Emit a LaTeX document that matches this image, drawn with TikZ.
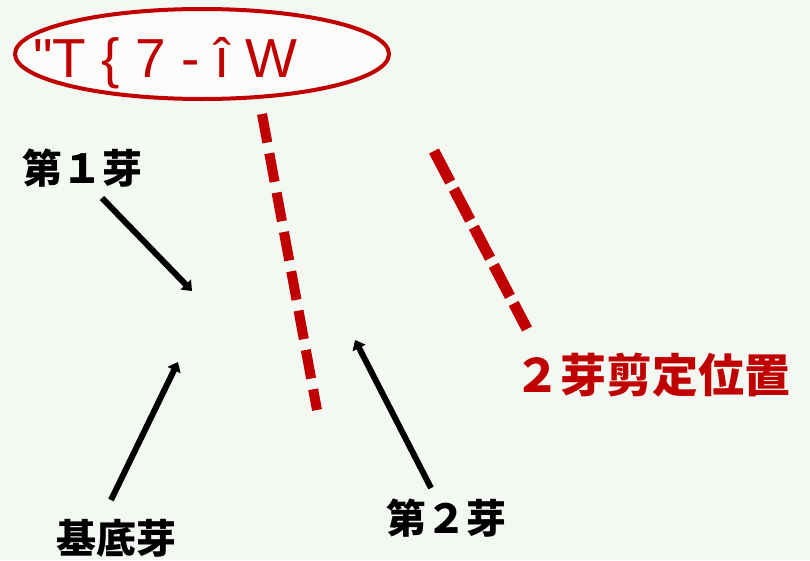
\documentclass[tikz,border=0pt]{standalone}
\usepackage{fontspec}
\setmainfont{Liberation Sans}
\newfontfamily\codefont{Liberation Sans}[Ligatures=TeXOff]
\newfontfamily\cjk{Noto Sans CJK JP}
\usetikzlibrary{arrows.meta,shapes.geometric}
\definecolor{bg}{HTML}{F4F8F2}
\definecolor{ellfill}{HTML}{FBFCFA}
\definecolor{dred}{HTML}{C00000}
\tikzset{
  lbl/.style={font=\cjk\bfseries\fontsize{40}{48}\selectfont, text=black, inner sep=0pt},
  redlbl/.style={font=\cjk\bfseries\fontsize{46}{54}\selectfont, text=dred, inner sep=0pt},
  pointer/.style={line width=6pt, draw=black, -{Triangle[length=9pt,width=14pt]}},
  cutline/.style={line width=10pt, draw=dred, line cap=butt},
}
\begin{document}
\begin{tikzpicture}[x=1pt,y=-1pt]
\fill[bg] (0,0) rectangle (810,560);
\useasboundingbox (0,0) rectangle (810,560);
\node[ellipse, draw=dred, line width=4pt, fill=ellfill, minimum width=374pt, minimum height=90pt, inner sep=0pt] (ell) at (202,54) {};
\node[anchor=base west, inner sep=0pt, text=dred, font=\codefont\fontsize{55}{60}\selectfont] (code) at (33,77) {"T \{ 7 - î W};
\node[lbl] (t1) at (82,168) {第１芽};
\node[lbl] (t2) at (116,538) {基底芽};
\node[lbl] (t3) at (446,518) {第２芽};
\node[redlbl] (t4) at (652,375) {２芽剪定位置};
\coordinate (a1s) at (102,198);
\coordinate (a1e) at (192,291);
\coordinate (a2s) at (111,500);
\coordinate (a2e) at (178,362);
\coordinate (a3s) at (431,488);
\coordinate (a3e) at (355,340);
\draw[pointer] (a1s) -- (a1e);
\draw[pointer] (a2s) -- (a2e);
\draw[pointer] (a3s) -- (a3e);
\coordinate (c1s) at (262,114);
\coordinate (c1e) at (317,410);
\coordinate (c2s) at (434,151);
\coordinate (c2e) at (527,329);
\draw[cutline, dash pattern=on 29pt off 11pt] (c1s) -- (c1e);
\draw[cutline, line width=11pt, dash pattern=on 35pt off 8pt] (c2s) -- (c2e);
\end{tikzpicture}
\end{document}
